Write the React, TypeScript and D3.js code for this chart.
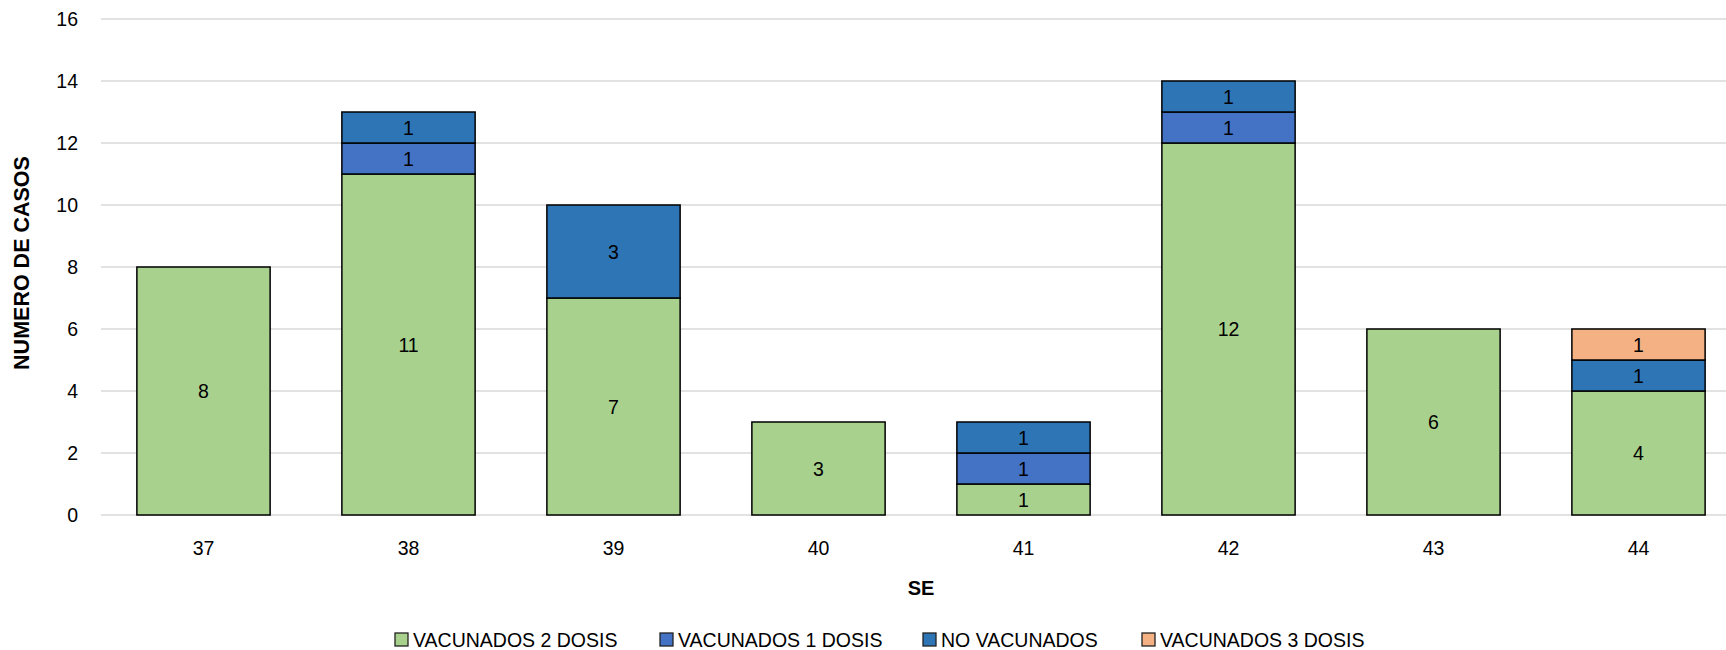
import React from "react";
import * as d3 from "d3";

const weeks = ["37", "38", "39", "40", "41", "42", "43", "44"];
const vacunados2 = [8, 11, 7, 3, 1, 12, 6, 4];
const vacunados1 = [0, 1, 0, 0, 1, 1, 0, 0];
const noVacunados = [0, 1, 3, 0, 1, 1, 0, 1];
const vacunados3 = [0, 0, 0, 0, 0, 0, 0, 1];
const yTicks = [0, 2, 4, 6, 8, 10, 12, 14, 16];

const seriesNames = ["VACUNADOS 2 DOSIS", "VACUNADOS 1 DOSIS", "NO VACUNADOS", "VACUNADOS 3 DOSIS"];
const seriesColors = ["#A9D18E", "#4472C4", "#2E75B6", "#F4B183"];
const seriesKeys = ["v2", "v1", "nv", "v3"];
const legendX = [395, 660, 923, 1142];

const W = 1726;
const H = 650;
const FONT = "'Liberation Sans', Arial, sans-serif";

export default function App() {
  const x = d3.scaleBand<string>().domain(weeks).range([101, 1741]).paddingInner(0.35).paddingOuter(0.175);
  const y = d3.scaleLinear().domain([0, 16]).range([515, 19]);

  const table = weeks.map((w, i) => ({
    week: w,
    v2: vacunados2[i],
    v1: vacunados1[i],
    nv: noVacunados[i],
    v3: vacunados3[i],
  }));
  const stacked = d3.stack<any>().keys(seriesKeys)(table);

  return (
    <svg width={W} height={H} style={{ position: "absolute", left: 0, top: 0, background: "#fff" }} fontFamily={FONT}>
      {yTicks.map((t) => (
        <g key={t}>
          <line x1={101} x2={W} y1={y(t)} y2={y(t)} stroke="#D9D9D9" strokeWidth={1.5} />
          <text x={78} y={y(t)} textAnchor="end" dominantBaseline="central" fontSize={19.5} fill="#000">
            {t}
          </text>
        </g>
      ))}
      {stacked.map((layer, si) => (
        <g key={layer.key}>
          {layer.map((d, i) => {
            const v = d[1] - d[0];
            if (v <= 0) return null;
            const x0 = x(weeks[i])!;
            const bw = x.bandwidth();
            const yTop = y(d[1]);
            const yBot = y(d[0]);
            return (
              <g key={i}>
                <rect x={x0} y={yTop} width={bw} height={yBot - yTop} fill={seriesColors[si]} stroke="#000" strokeWidth={1.5} />
                <text x={x0 + bw / 2} y={(yTop + yBot) / 2} textAnchor="middle" dominantBaseline="central" fontSize={19.5} fill="#000">
                  {v}
                </text>
              </g>
            );
          })}
        </g>
      ))}
      {weeks.map((w) => (
        <text key={w} x={x(w)! + x.bandwidth() / 2} y={548} textAnchor="middle" dominantBaseline="central" fontSize={19.5} fill="#000">
          {w}
        </text>
      ))}
      <text x={921} y={588} textAnchor="middle" dominantBaseline="central" fontSize={20} fontWeight="bold" fill="#000">
        SE
      </text>
      <text
        transform={`translate(22,263) rotate(-90)`}
        textAnchor="middle"
        dominantBaseline="central"
        fontSize={21.5}
        fontWeight="bold"
        fill="#000"
      >
        NUMERO DE CASOS
      </text>
      {seriesNames.map((n, i) => (
        <g key={n}>
          <rect x={legendX[i]} y={633} width={13} height={13} fill={seriesColors[i]} stroke="#222" strokeWidth={1.3} />
          <text x={legendX[i] + 18} y={640} dominantBaseline="central" fontSize={19.5} fill="#000">
            {n}
          </text>
        </g>
      ))}
    </svg>
  );
}
